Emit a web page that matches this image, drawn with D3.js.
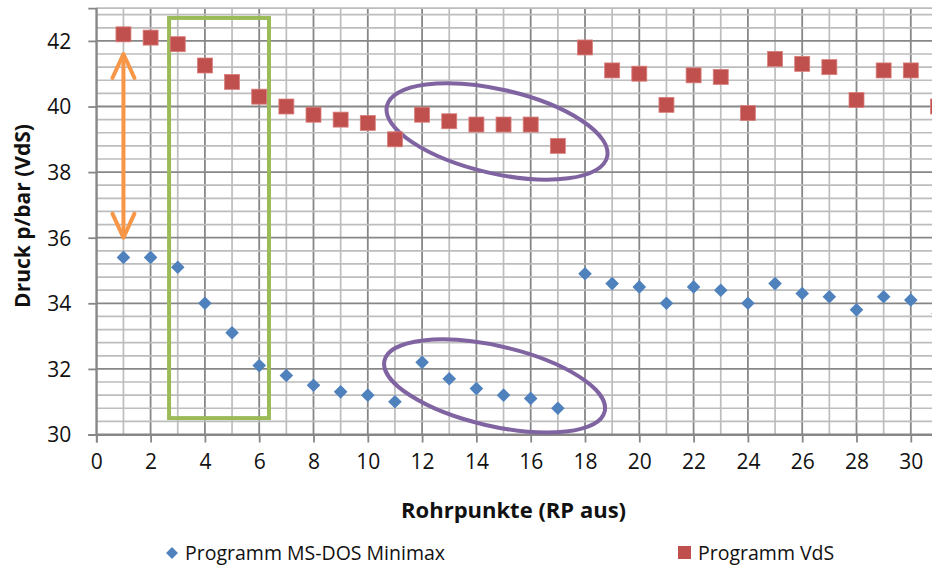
<!DOCTYPE html>
<html>
<head>
<meta charset="utf-8">
<script src="https://cdn.jsdelivr.net/npm/d3@7"></script>
<style>
  html, body { margin: 0; padding: 0; background: #fff; }
  svg { display: block; font-family: "Open Sans", "Liberation Sans", sans-serif; }
</style>
</head>
<body>
<svg id="chart" width="932" height="571"></svg>
<script>
// Rohrpunkte 1..31 (the last one sits at the clipped right edge)
const rohrpunkte = d3.range(1, 32);

// Druck p/bar, program MS-DOS Minimax
const minimax = [35.4, 35.4, 35.1, 34.0, 33.1, 32.1, 31.8, 31.5, 31.3, 31.2,
                 31.0, 32.2, 31.7, 31.4, 31.2, 31.1, 30.8, 34.9, 34.6, 34.5,
                 34.0, 34.5, 34.4, 34.0, 34.6, 34.3, 34.2, 33.8, 34.2, 34.1, 33.7];

// Druck p/bar, program VdS
const vds = [42.2, 42.1, 41.9, 41.25, 40.75, 40.3, 40.0, 39.75, 39.6, 39.5,
             39.0, 39.75, 39.55, 39.45, 39.45, 39.45, 38.8, 41.8, 41.1, 41.0,
             40.05, 40.95, 40.9, 39.8, 41.45, 41.3, 41.2, 40.2, 41.1, 41.1, 40.0];

const xTickLabels = d3.range(0, 31, 2);
const yTickLabels = d3.range(30, 43, 2);

const seriesNames = ["Programm MS-DOS Minimax", "Programm VdS"];
const xTitle = "Rohrpunkte (RP aus)";
const yTitle = "Druck p/bar (VdS)";

const colors = {
  blue: "#4F81BD", red: "#C0504D", orange: "#F79646",
  green: "#9BBB59", purple: "#8064A2",
  gridMajor: "#878787", gridMinor: "#bdbdbd"
};

const svg = d3.select("#chart");
const W = 932;

const x = d3.scaleLinear().domain([0, 32]).range([96.3, 96.3 + 32 * 27.15]);
const y = d3.scaleLinear().domain([30, 43]).range([434.5, 434.5 - 13 * 32.8]);

const plotTop = y(43), plotBottom = y(30), plotLeft = x(0);

const isMajor = v => Math.abs(v - Math.round(v)) < 1e-6 && Math.round(v) % 2 === 0;

// grid: vertical every 1 (major every 2), horizontal every 0.4 (major every 2)
const grid = svg.append("g");
const vLines = d3.range(0, 33, 1);
grid.selectAll("line.v").data(vLines).join("line")
  .attr("class", "v")
  .attr("x1", d => x(d)).attr("x2", d => x(d))
  .attr("y1", plotTop).attr("y2", plotBottom)
  .attr("stroke", d => isMajor(d) ? colors.gridMajor : colors.gridMinor)
  .attr("stroke-width", d => isMajor(d) ? 1.8 : 1.7);

const hLines = d3.range(0, 33).map(i => +(30 + i * 0.4).toFixed(1)).filter(v => v <= 43.001);
grid.selectAll("line.h").data(hLines).join("line")
  .attr("class", "h")
  .attr("x1", plotLeft).attr("x2", W)
  .attr("y1", d => y(d)).attr("y2", d => y(d))
  .attr("stroke", d => isMajor(d) ? colors.gridMajor : colors.gridMinor)
  .attr("stroke-width", d => isMajor(d) ? 1.8 : 1.7);
grid.append("line")
  .attr("x1", plotLeft).attr("x2", W).attr("y1", plotTop).attr("y2", plotTop)
  .attr("stroke", colors.gridMinor).attr("stroke-width", 1.7);

// axes
const xAxis = svg.append("g")
  .attr("transform", `translate(0,${plotBottom})`)
  .call(d3.axisBottom(x).tickValues(xTickLabels).tickSize(8).tickPadding(12));
const yAxis = svg.append("g")
  .attr("transform", `translate(${plotLeft},0)`)
  .call(d3.axisLeft(y).tickValues(yTickLabels).tickSize(8).tickPadding(17));

[xAxis, yAxis].forEach(g => {
  g.select(".domain").attr("stroke", colors.gridMajor).attr("stroke-width", 1.8);
  g.selectAll(".tick line").attr("stroke", colors.gridMajor).attr("stroke-width", 1.8);
  g.selectAll(".tick text")
    .attr("font-family", "'Open Sans', sans-serif")
    .attr("font-size", 21).attr("fill", "#111");
});
yAxis.selectAll(".tick text").attr("dy", "0.35em");

// annotations: orange double arrow, green frame, purple ellipses
const ann = svg.append("g");

const arrowX = x(1), arrowTop = y(41.6), arrowBot = y(36.0);
ann.append("line")
  .attr("x1", arrowX).attr("x2", arrowX)
  .attr("y1", arrowTop + 2).attr("y2", arrowBot - 2)
  .attr("stroke", colors.orange).attr("stroke-width", 4);
ann.append("path")
  .attr("d", `M${arrowX - 11},${arrowTop + 24} L${arrowX},${arrowTop} L${arrowX + 11},${arrowTop + 24}
              M${arrowX - 11},${arrowBot - 24} L${arrowX},${arrowBot} L${arrowX + 11},${arrowBot - 24}`)
  .attr("fill", "none").attr("stroke", colors.orange).attr("stroke-width", 4)
  .attr("stroke-linecap", "round").attr("stroke-linejoin", "round");

ann.append("rect")
  .attr("x", x(2.68)).attr("y", y(42.7))
  .attr("width", x(6.36) - x(2.68)).attr("height", y(30.5) - y(42.7))
  .attr("fill", "none").attr("stroke", colors.green).attr("stroke-width", 4);

const ellipses = [
  { cx: 14.76, cy: 39.24, rx: 113, ry: 42 },
  { cx: 14.67, cy: 31.48, rx: 113, ry: 40 }
];
ann.selectAll("ellipse").data(ellipses).join("ellipse")
  .attr("cx", 0).attr("cy", 0)
  .attr("rx", d => d.rx).attr("ry", d => d.ry)
  .attr("transform", d => `translate(${x(d.cx)},${y(d.cy)}) rotate(13)`)
  .attr("fill", "none").attr("stroke", colors.purple).attr("stroke-width", 4);

// data markers
const marks = svg.append("g");
const dia = d3.symbol().type(d3.symbolDiamond2).size(118);
marks.selectAll("path.mm").data(rohrpunkte).join("path")
  .attr("class", "mm")
  .attr("d", dia)
  .attr("transform", (d, i) => `translate(${x(d)},${y(minimax[i])})`)
  .attr("fill", colors.blue);

const sq = 15;
marks.selectAll("rect.vds").data(rohrpunkte).join("rect")
  .attr("class", "vds")
  .attr("x", d => x(d) - sq / 2)
  .attr("y", (d, i) => y(vds[i]) - sq / 2)
  .attr("width", sq).attr("height", sq)
  .attr("fill", colors.red).attr("stroke", "#d9807e").attr("stroke-width", 0.8);

// axis titles
svg.append("text")
  .attr("x", (x(0) + x(30)) / 2 + 10).attr("y", 518)
  .attr("text-anchor", "middle")
  .attr("font-size", 22).attr("font-weight", "bold").attr("fill", "#111")
  .text(xTitle);
svg.append("text")
  .attr("transform", `translate(30,216) rotate(-90)`)
  .attr("text-anchor", "middle")
  .attr("font-size", 21).attr("font-weight", "bold").attr("fill", "#111")
  .text(yTitle);

// legend
const legend = svg.append("g").attr("font-size", 19.5).attr("fill", "#111");
legend.append("path")
  .attr("d", d3.symbol().type(d3.symbolDiamond2).size(90))
  .attr("transform", "translate(172,553)")
  .attr("fill", colors.blue);
legend.append("text").attr("x", 185).attr("y", 560).text(seriesNames[0]);
legend.append("rect")
  .attr("x", 678).attr("y", 546).attr("width", 13).attr("height", 13)
  .attr("fill", colors.red);
legend.append("text").attr("x", 698).attr("y", 560).text(seriesNames[1]);
</script>
</body>
</html>
